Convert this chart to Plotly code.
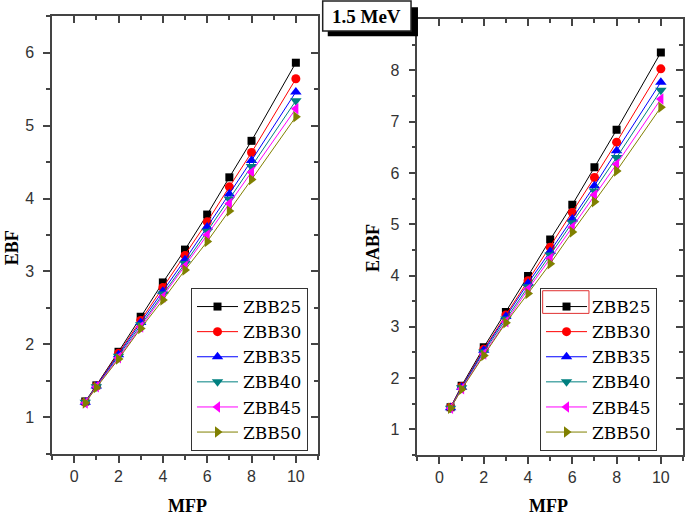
import plotly.graph_objects as go

# ---------------- data ----------------
mfp = [0.5, 1, 2, 3, 4, 5, 6, 7, 8, 10]
series_names = ["ZBB25", "ZBB30", "ZBB35", "ZBB40", "ZBB45", "ZBB50"]

ebf_zbb25 = [1.22, 1.44, 1.90, 2.38, 2.85, 3.30, 3.78, 4.29, 4.79, 5.86]
ebf_zbb30 = [1.21, 1.43, 1.88, 2.33, 2.78, 3.22, 3.68, 4.16, 4.63, 5.64]
ebf_zbb35 = [1.21, 1.43, 1.86, 2.30, 2.73, 3.16, 3.61, 4.06, 4.52, 5.46]
ebf_zbb40 = [1.21, 1.42, 1.84, 2.27, 2.69, 3.11, 3.55, 3.99, 4.44, 5.34]
ebf_zbb45 = [1.20, 1.42, 1.82, 2.24, 2.65, 3.07, 3.50, 3.93, 4.36, 5.23]
ebf_zbb50 = [1.20, 1.41, 1.80, 2.22, 2.61, 3.02, 3.41, 3.83, 4.26, 5.12]

eabf_zbb25 = [1.43, 1.85, 2.60, 3.29, 3.99, 4.70, 5.38, 6.11, 6.84, 8.35]
eabf_zbb30 = [1.43, 1.83, 2.56, 3.23, 3.90, 4.55, 5.23, 5.91, 6.60, 8.03]
eabf_zbb35 = [1.42, 1.82, 2.54, 3.20, 3.85, 4.47, 5.10, 5.75, 6.43, 7.77]
eabf_zbb40 = [1.41, 1.81, 2.51, 3.15, 3.78, 4.40, 5.03, 5.65, 6.30, 7.61]
eabf_zbb45 = [1.41, 1.79, 2.47, 3.10, 3.73, 4.33, 4.94, 5.57, 6.17, 7.44]
eabf_zbb50 = [1.41, 1.78, 2.44, 3.08, 3.65, 4.23, 4.85, 5.44, 6.04, 7.28]

x_tick_vals = [0, 2, 4, 6, 8, 10]
ebf_tick_vals = [1, 2, 3, 4, 5, 6]
eabf_tick_vals = [1, 2, 3, 4, 5, 6, 7, 8]

ebf_series = [ebf_zbb25, ebf_zbb30, ebf_zbb35, ebf_zbb40, ebf_zbb45, ebf_zbb50]
eabf_series = [eabf_zbb25, eabf_zbb30, eabf_zbb35, eabf_zbb40, eabf_zbb45, eabf_zbb50]

# ---------------- style ----------------
colors = ["#000000", "#FF0000", "#0000FF", "#008080", "#FF00FF", "#808000"]
symbols = ["square", "circle", "triangle-up", "triangle-down", "triangle-left", "triangle-right"]
msizes = [8, 9, 10, 10, 10, 10]

AX = "#444444"
serif = "Liberation Serif"
legend_serif = "DejaVu Serif"
sans = "Liberation Sans"

fig = go.Figure()

for i, name in enumerate(series_names):
    fig.add_trace(go.Scatter(
        x=mfp, y=ebf_series[i], name=name, mode="lines+markers",
        line=dict(color=colors[i], width=1),
        marker=dict(symbol=symbols[i], size=msizes[i], color=colors[i]),
        xaxis="x", yaxis="y", legend="legend"))
for i, name in enumerate(series_names):
    fig.add_trace(go.Scatter(
        x=mfp, y=eabf_series[i], name=name, mode="lines+markers",
        line=dict(color=colors[i], width=1),
        marker=dict(symbol=symbols[i], size=msizes[i], color=colors[i]),
        xaxis="x2", yaxis="y2", legend="legend2"))

# empty traces so the mirrored (inward-tick) axes are drawn
fig.add_trace(go.Scatter(x=[None], y=[None], xaxis="x3", yaxis="y3", showlegend=False, hoverinfo="skip"))
fig.add_trace(go.Scatter(x=[None], y=[None], xaxis="x4", yaxis="y4", showlegend=False, hoverinfo="skip"))


def base_axis(**kw):
    d = dict(showgrid=False, zeroline=False, showline=True, linecolor=AX, linewidth=1.5,
             tickcolor=AX, tickwidth=1.5, ticklen=7,
             tickfont=dict(family=sans, size=16, color="#333333"))
    d.update(kw)
    return d


def minor(dt, side):
    return dict(dtick=dt, tick0=0, ticks=side, ticklen=4, tickcolor=AX, tickwidth=1.5)


xdom1 = [0.0, 0.4216]
xdom2 = [0.579, 1.0]
ydom1 = [0.0023, 1.0]
ydom2 = [0.0, 0.993]

legend_font = dict(family=legend_serif, size=17, color="black")

fig.update_layout(
    width=685, height=515,
    margin=dict(l=52, r=2, t=16, b=60),
    font=dict(family=serif, size=17, color="black"),
    paper_bgcolor="white", plot_bgcolor="white",
    xaxis=base_axis(domain=xdom1, range=[-1, 11], tickvals=x_tick_vals, ticks="outside",
                    anchor="y", minor=minor(1, "outside")),
    yaxis=base_axis(domain=ydom1, range=[0.5, 6.5], tickvals=ebf_tick_vals, ticks="outside",
                    anchor="x", ticklabelstandoff=6, minor=minor(0.5, "outside")),
    xaxis3=base_axis(range=[-1, 11], tickvals=x_tick_vals, ticks="inside", showticklabels=False,
                     overlaying="x", side="top", anchor="y3", minor=minor(1, "inside")),
    yaxis3=base_axis(range=[0.5, 6.5], tickvals=ebf_tick_vals, ticks="inside", showticklabels=False,
                     overlaying="y", side="right", anchor="x3", minor=minor(0.5, "inside")),
    xaxis2=base_axis(domain=xdom2, range=[-1, 11], tickvals=x_tick_vals, ticks="outside",
                     anchor="y2", minor=minor(1, "outside")),
    yaxis2=base_axis(domain=ydom2, range=[0.5, 9], tickvals=eabf_tick_vals, ticks="outside",
                     anchor="x2", ticklabelstandoff=6, minor=minor(0.5, "outside")),
    xaxis4=base_axis(range=[-1, 11], tickvals=x_tick_vals, ticks="inside", showticklabels=False,
                     overlaying="x2", side="top", anchor="y4", minor=minor(1, "inside")),
    yaxis4=base_axis(range=[0.5, 9], tickvals=eabf_tick_vals, ticks="inside", showticklabels=False,
                     overlaying="y2", side="right", anchor="x4", minor=minor(0.5, "inside")),
    legend=dict(x=0.2203, y=0.3804, xanchor="left", yanchor="top",
                bgcolor="rgba(0,0,0,0)", bordercolor="#333333", borderwidth=1,
                font=legend_font, itemwidth=41, tracegroupgap=0),
    legend2=dict(x=0.7734, y=0.3804, xanchor="left", yanchor="top",
                 bgcolor="rgba(0,0,0,0)", bordercolor="#333333", borderwidth=1,
                 font=legend_font, itemwidth=41, tracegroupgap=0),
    showlegend=True,
)

# title box with drop shadow
fig.add_shape(type="rect", xref="paper", yref="paper", x0=0.437, x1=0.580, y0=0.954, y1=1.020,
              fillcolor="black", line=dict(width=0), layer="above")
fig.add_shape(type="rect", xref="paper", yref="paper", x0=0.429, x1=0.569, y0=0.966, y1=1.034,
              fillcolor="white", line=dict(color="#222222", width=1.5), layer="above")
# red selection frame around the first legend entry of the right panel
fig.add_shape(type="rect", xref="paper", yref="paper", x0=0.7776, x1=0.8510, y0=0.3226, y1=0.3742,
              fillcolor="rgba(0,0,0,0)", line=dict(color="#E03030", width=1), layer="above")

annos = [
    dict(text="<b>1.5 MeV</b>", x=0.499, y=1.0, size=19, angle=0),
    dict(text="<b>MFP</b>", x=0.214, y=-0.116, size=18, angle=0),
    dict(text="<b>MFP</b>", x=0.7876, y=-0.116, size=18, angle=0),
    dict(text="<b>EBF</b>", x=-0.063, y=0.4715, size=18, angle=-90),
    dict(text="<b>EABF</b>", x=0.5087, y=0.4715, size=18, angle=-90),
]
for a in annos:
    fig.add_annotation(text=a["text"], x=a["x"], y=a["y"], xref="paper", yref="paper",
                       xanchor="center", yanchor="middle", showarrow=False, textangle=a["angle"],
                       font=dict(family=serif, size=a["size"], color="black"))

fig.write_html("out.html", config={"displayModeBar": False},
               post_script="document.body.style.margin='0px';document.body.style.padding='0px';")
